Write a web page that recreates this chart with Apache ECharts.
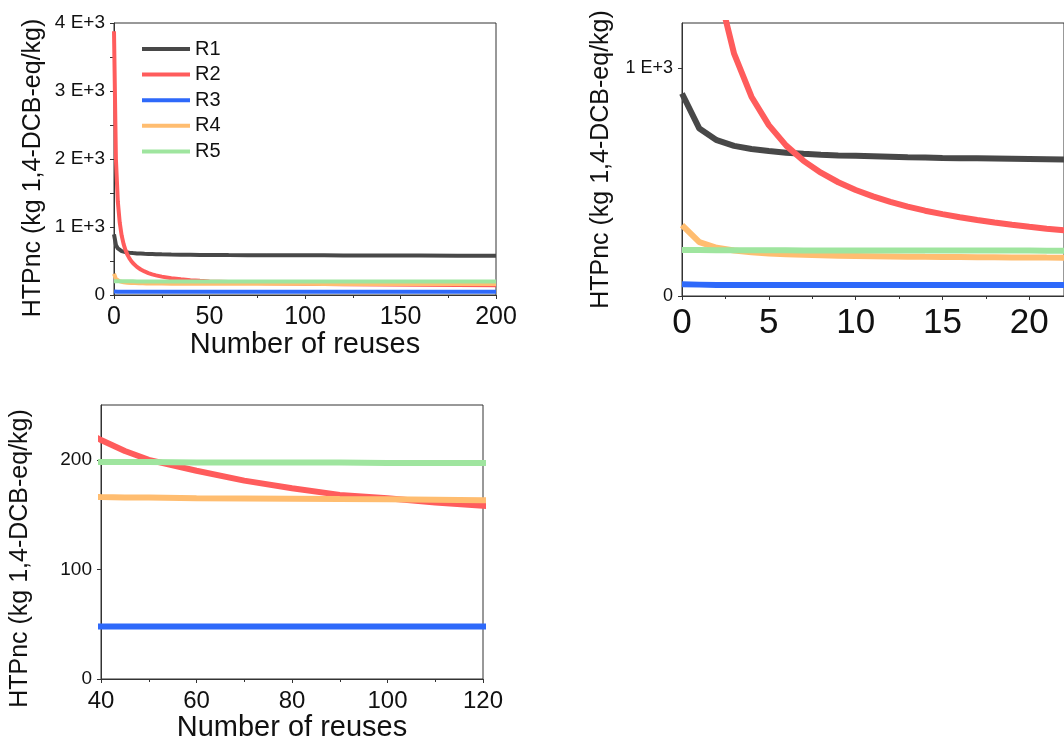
<!DOCTYPE html>
<html>
<head>
<meta charset="utf-8">
<script src="https://cdn.jsdelivr.net/npm/echarts@6/dist/echarts.min.js"></script>
<style>html,body{margin:0;padding:0;background:#fff;}#c{width:1064px;height:753px;}</style>
</head>
<body>
<div id="c"></div>
<script>
// ---- data ----
const reuses = [0,1,2,3,4,5,6,7,8,9,10,11,12,13,14,15,16,17,18,19,20,21,22,25,30,35,40,45,50,60,70,80,90,100,110,120,140,160,180,200];
const r1 = [890,736,685,660,646,637,630,625,621,618,616,614,612,610,609,607,606,605,604,603,602,601,600,598,595,593,592,590,589,587,586,585,584,583,583,582,581,580,579,578];
const r2 = [3880,2000,1375,1065,876,751,661,594,542,500,466,438,414,393,375,360,346,334,323,313,304,296,289,270,247,230,218,208,200,190,181,174,168,165,161,158,154,150,147,145];
const r3 = [52,50,48,48,48,48,48,48,48,48,48,48,48,48,48,48,48,48,48,48,48,48,48,48,48,48,48,48,48,48,48,48,48,48,48,48,48,48,48,48];
const r4 = [312,237,212,200,192,187,183.5,181,179,177,176,175,174,173,172,171.5,171,170.5,170,169.5,169,168.7,168.5,168,167,166.5,166,165.7,165.5,165,164.8,164.5,164.2,164,163.5,163,162.8,162.5,162.2,162];
const r5 = [202,202,201.5,201.5,201,201,201,200.5,200.5,200.5,200.5,200,200,200,200,200,200,199.5,199.5,199.5,199.5,199,199,199,198.5,198.5,198,198,198,197.5,197.5,197.5,197.5,197,197,197,197,197,197,197];
const seriesNames = ['R1','R2','R3','R4','R5'];
const seriesValues = [r1, r2, r3, r4, r5];
const colors = ['#484848','#ff5c5c','#2e69fa','#ffbd70','#9fe59f'];
const yTicks1 = [0,1000,2000,3000,4000];
const yTicks2 = [0,1000];
const yTicks3 = [0,100,200];
const yName = 'HTPnc (kg 1,4-DCB-eq/kg)';
const xName = 'Number of reuses';

const FONT = 'Liberation Sans, Arial, sans-serif';
const eFmt = v => v === 0 ? '0' : (v/1000) + ' E+3';

function xAxis(gi, min, max, interval, fs, showName) {
  return {
    type: 'value', gridIndex: gi, min: min, max: max, interval: interval,
    name: showName ? xName : '', nameLocation: 'middle', nameGap: 33,
    nameTextStyle: {fontFamily: FONT, fontSize: 29, color: '#111'},
    axisLine: {show: true, lineStyle: {color: '#333', width: 1}},
    axisTick: {show: true, length: 4, lineStyle: {color: '#333'}},
    minorTick: {show: true, splitNumber: 2, length: 3, lineStyle: {color: '#333'}},
    splitLine: {show: false}, minorSplitLine: {show: false},
    axisLabel: {fontFamily: FONT, fontSize: fs, color: '#111', margin: 10, showMaxLabel: (max % interval === 0)}
  };
}
function yAxis(gi, min, max, ticks, fs, fmt, namePad, minor) {
  return {
    type: 'value', gridIndex: gi, min: min, max: max,
    name: yName, nameLocation: 'middle', nameGap: 68,
    nameTextStyle: {fontFamily: FONT, fontSize: 25, color: '#111', padding: namePad},
    axisLine: {show: true, lineStyle: {color: '#333', width: 1}},
    axisTick: {show: true, length: 4, customValues: ticks, lineStyle: {color: '#333'}},
    minorTick: {show: minor, splitNumber: 2, length: 4, lineStyle: {color: '#333'}},
    splitLine: {show: false}, minorSplitLine: {show: false},
    interval: minor ? 1000 : undefined,
    axisLabel: {fontFamily: FONT, fontSize: fs, color: '#111', margin: 9, customValues: ticks, formatter: fmt}
  };
}

const series = [];
const widths = [4, 6, 6];
for (let g = 0; g < 3; g++) {
  for (let i = 0; i < 5; i++) {
    series.push({
      type: 'line', name: seriesNames[i], xAxisIndex: g, yAxisIndex: g,
      data: reuses.map((x, k) => [x, seriesValues[i][k]]),
      showSymbol: false, symbol: 'none', smooth: false, clip: true,
      lineStyle: {color: colors[i], width: widths[g]}, itemStyle: {color: colors[i]},
      animation: false, z: 2 + i
    });
  }
}

const chart = echarts.init(document.getElementById('c'), null, {renderer: 'canvas'});
chart.setOption({
  backgroundColor: '#fff',
  animation: false,
  grid: [
    {left: 114, top: 23, width: 382, height: 272, show: true, borderColor: '#333', borderWidth: 1, backgroundColor: 'transparent'},
    {left: 682, top: 23, width: 382, height: 273, show: true, borderColor: '#333', borderWidth: 1, backgroundColor: 'transparent'},
    {left: 101, top: 405, width: 382, height: 274, show: true, borderColor: '#333', borderWidth: 1, backgroundColor: 'transparent'}
  ],
  legend: {
    data: seriesNames, orient: 'vertical', left: 137, top: 34,
    icon: 'rect', itemWidth: 48, itemHeight: 4, itemGap: 5.6,
    textStyle: {fontFamily: FONT, fontSize: 20, color: '#111', lineHeight: 20, padding: [0,0,0,0]},
    selectedMode: false
  },
  xAxis: [
    xAxis(0, 0, 200, 50, 25, true),
    xAxis(1, 0, 22, 5, 35, false),
    xAxis(2, 40, 120, 20, 24, true)
  ],
  yAxis: [
    yAxis(0, 0, 4000, yTicks1, 19, eFmt, [0, 18, 0, 0], true),
    yAxis(1, 0, 1200, yTicks2, 18, eFmt, [0, 0, 0, 0], false),
    yAxis(2, 0, 250, yTicks3, 19, v => String(v), [0, 33, 0, 0], false)
  ],
  series: series
});
</script>
</body>
</html>
